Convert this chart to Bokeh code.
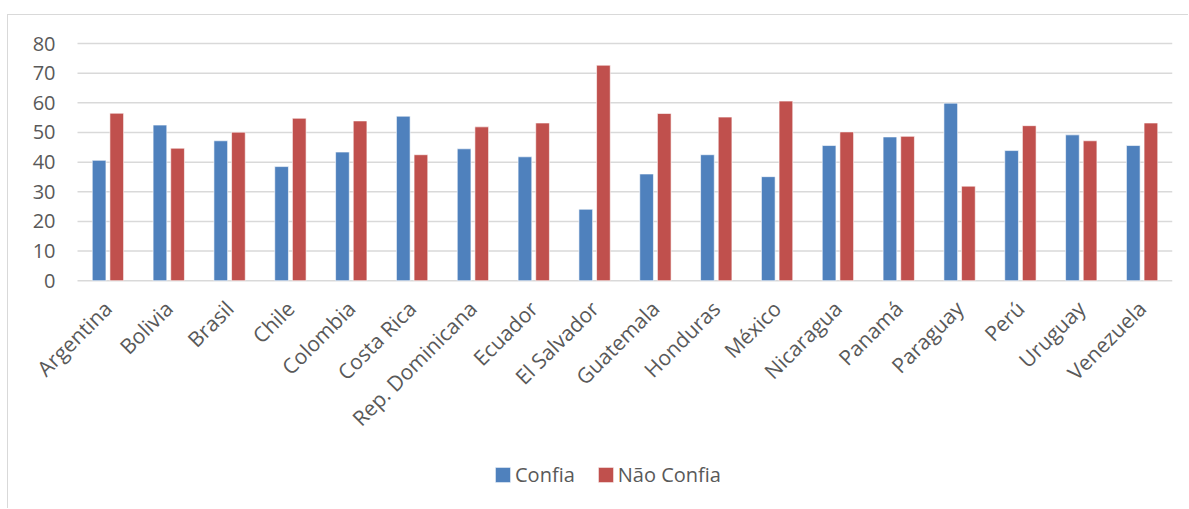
import math
from bokeh.plotting import figure
from bokeh.models import (ColumnDataSource, Range1d, FixedTicker, Legend,
                          LegendItem, CustomJSTickFormatter)
from bokeh.embed import file_html
from bokeh.resources import INLINE

countries = ["Argentina", "Bolivia", "Brasil", "Chile", "Colombia", "Costa Rica",
             "Rep. Dominicana", "Ecuador", "El Salvador", "Guatemala", "Honduras",
             "México", "Nicaragua", "Panamá", "Paraguay", "Perú", "Uruguay",
             "Venezuela"]
confia = [40.6, 52.5, 47.2, 38.5, 43.4, 55.5, 44.5, 41.8, 24.1, 36.0, 42.5,
          35.1, 45.6, 48.5, 59.9, 43.9, 49.2, 45.6]
nao_confia = [56.5, 44.7, 50.1, 54.8, 53.9, 42.5, 51.9, 53.2, 72.7, 56.4, 55.2,
              60.6, 50.2, 48.7, 31.9, 52.3, 47.2, 53.2]
y_ticks = [0, 10, 20, 30, 40, 50, 60, 70, 80]
series_names = ["Confia", "Não Confia"]

BLUE = "#4F81BD"
RED = "#C0504D"
TEXT = "#595959"
GRID = "#D9D9D9"
FONT = "Open Sans"

n = len(countries)
idx = list(range(n))

# Each country sits at an integer slot; the frame reaches past the first slot
# on the left, above the top gridline and down to the bottom edge so that all
# labels and the legend stay inside it. Both axes are pinned to the origin.
p = figure(x_range=Range1d(-1.355, n - 0.5),
           y_range=Range1d(-77.2, 86.1),
           width=1181, height=494,
           output_backend="svg", toolbar_location=None,
           min_border_left=17, min_border_right=17,
           min_border_top=10, min_border_bottom=0,
           background_fill_color="white", border_fill_color="white",
           styles={"margin-left": "7px", "margin-top": "14px",
                   "border-left": "1px solid #D9D9D9",
                   "border-top": "1px solid #D9D9D9"})
p.outline_line_color = None
p.xgrid.grid_line_color = None
p.ygrid.grid_line_color = None

# horizontal gridlines across the category span
p.segment(x0=[-0.5] * len(y_ticks), x1=[n - 0.5] * len(y_ticks),
          y0=y_ticks, y1=y_ticks, line_color=GRID, line_width=1.5)

r1 = p.vbar(x=[i - 0.145 for i in idx], top=confia, width=0.225,
            fill_color=BLUE, line_color="white", line_alpha=0.6, line_width=1)
r2 = p.vbar(x=[i + 0.145 for i in idx], top=nao_confia, width=0.225,
            fill_color=RED, line_color="white", line_alpha=0.6, line_width=1)

# value axis
p.yaxis.fixed_location = -0.5
p.yaxis.ticker = FixedTicker(ticks=y_ticks)
p.yaxis.axis_line_color = None
p.yaxis.major_tick_line_color = None
p.yaxis.minor_tick_line_color = None
p.yaxis.major_tick_out = 0
p.yaxis.major_tick_in = 0
p.yaxis.major_label_standoff = 22
p.yaxis.major_label_text_font = FONT
p.yaxis.major_label_text_font_size = "20px"
p.yaxis.major_label_text_color = TEXT

# category axis
p.xaxis.fixed_location = 0
p.xaxis.ticker = FixedTicker(ticks=idx)
p.xaxis.formatter = CustomJSTickFormatter(
    args=dict(names=countries),
    code="const i = Math.round(tick); return (i >= 0 && i < names.length) ? names[i] : '';")
p.xaxis.axis_line_color = None
p.xaxis.major_tick_line_color = None
p.xaxis.minor_tick_line_color = None
p.xaxis.major_tick_out = 0
p.xaxis.major_tick_in = 0
p.xaxis.major_label_standoff = 24
p.xaxis.major_label_orientation = math.pi / 4
p.xaxis.major_label_text_font = FONT
p.xaxis.major_label_text_font_size = "21px"
p.xaxis.major_label_text_color = TEXT

legend = Legend(items=[LegendItem(label=series_names[0], renderers=[r1]),
                       LegendItem(label=series_names[1], renderers=[r2])],
                location=(468, 21), orientation="horizontal",
                glyph_width=19, glyph_height=19, label_standoff=3,
                spacing=21, padding=0, margin=0, label_height=22,
                border_line_color=None, background_fill_alpha=0,
                label_text_font=FONT, label_text_font_size="20px",
                label_text_color=TEXT)
p.add_layout(legend, "center")

open("out.html", "w").write(file_html(p, INLINE))
